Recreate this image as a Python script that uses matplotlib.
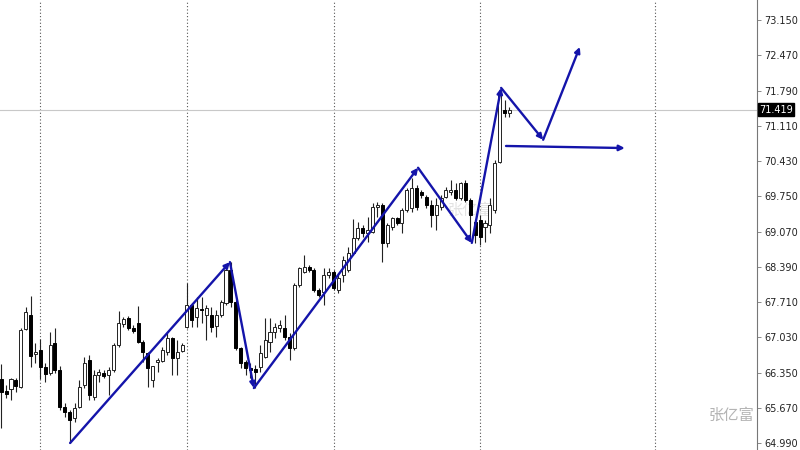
import matplotlib
matplotlib.use("Agg")
import matplotlib.pyplot as plt
import numpy as np

plt.rcParams['font.family'] = ['DejaVu Sans', 'Noto Sans CJK SC']

# OHLC, one row per bar (open, high, low, close)
opens = [66.22, 65.99, 66.03, 66.21, 66.07, 67.19, 67.46, 66.71, 66.79, 66.46,
         66.34, 66.92, 66.40, 65.69, 65.59, 65.47, 65.69, 66.11, 66.59, 65.88,
         66.30, 66.34, 66.30, 66.40, 66.88, 67.29, 67.40, 67.21, 67.30, 66.94,
         66.73, 66.21, 66.55, 66.57, 66.75, 67.02, 66.63, 66.77, 67.23, 67.65,
         67.42, 67.58, 67.46, 67.46, 67.25, 67.46, 67.69, 68.33, 67.71, 66.82,
         66.55, 66.44, 66.42, 66.46, 66.65, 66.94, 67.13, 67.21, 67.21, 67.04,
         66.82, 68.03, 68.29, 68.39, 68.33, 67.94, 67.90, 68.23, 68.29, 67.94,
         68.23, 68.33, 68.66, 68.94, 69.14, 69.04, 69.06, 69.54, 69.58, 68.85,
         69.16, 69.33, 69.23, 69.49, 69.52, 69.91, 69.83, 69.74, 69.58, 69.39,
         69.54, 69.74, 69.83, 69.87, 69.72, 70.01, 69.68, 69.25, 69.29, 69.16,
         69.20, 69.49, 70.41, 71.41, 71.36]
highs = [66.51, 66.11, 66.24, 66.24, 67.21, 67.61, 67.83, 66.92, 67.00, 66.53,
         67.13, 67.21, 66.48, 65.76, 65.63, 65.76, 66.21, 66.65, 66.69, 66.40,
         66.42, 66.40, 66.46, 66.92, 67.54, 67.42, 67.44, 67.27, 67.63, 66.98,
         66.75, 66.48, 66.63, 66.84, 67.11, 67.04, 66.98, 66.92, 68.08, 67.69,
         67.81, 67.81, 67.65, 67.61, 67.56, 67.75, 68.42, 68.49, 67.75, 66.84,
         66.59, 66.53, 66.50, 66.88, 67.40, 67.40, 67.30, 67.36, 67.46, 67.11,
         68.08, 68.39, 68.62, 68.42, 68.37, 67.98, 68.37, 68.37, 68.33, 68.27,
         68.60, 68.77, 69.31, 69.25, 69.20, 69.35, 69.62, 69.64, 69.62, 69.23,
         69.35, 69.35, 69.52, 69.91, 70.10, 69.97, 69.87, 69.77, 69.68, 69.72,
         69.77, 69.93, 70.06, 70.01, 70.03, 70.06, 69.72, 69.29, 69.39, 69.29,
         69.72, 70.45, 71.80, 71.61, 71.47]
lows = [65.28, 65.86, 65.82, 65.97, 66.05, 67.17, 66.46, 66.53, 66.22, 66.17,
        66.30, 66.34, 65.63, 65.49, 64.99, 65.40, 65.67, 66.05, 65.82, 65.82,
        66.17, 66.24, 65.92, 66.36, 66.84, 67.23, 67.17, 67.11, 66.92, 66.55,
        66.07, 66.07, 66.36, 66.55, 66.69, 66.30, 66.30, 66.75, 67.21, 67.23,
        67.23, 67.30, 66.98, 67.13, 67.04, 67.42, 67.65, 67.61, 66.79, 66.44,
        66.30, 66.24, 66.05, 66.36, 66.63, 66.75, 67.02, 67.13, 66.98, 66.59,
        66.79, 68.00, 68.27, 68.29, 67.90, 67.81, 67.65, 68.17, 67.94, 67.88,
        68.10, 68.29, 68.62, 68.91, 68.96, 68.87, 69.04, 69.35, 68.49, 68.77,
        69.10, 69.20, 69.04, 69.45, 69.45, 69.49, 69.72, 69.52, 69.16, 69.10,
        69.49, 69.72, 69.77, 69.68, 69.68, 69.64, 68.96, 68.85, 68.81, 68.87,
        69.04, 69.43, 70.39, 71.28, 71.28]
closes = [65.97, 65.94, 66.22, 66.09, 67.17, 67.52, 66.67, 66.75, 66.46, 66.32,
          66.88, 66.40, 65.69, 65.59, 65.43, 65.67, 66.07, 66.53, 65.92, 66.30,
          66.36, 66.28, 66.40, 66.88, 67.30, 67.38, 67.21, 67.15, 66.94, 66.75,
          66.44, 66.48, 66.59, 66.79, 67.02, 66.63, 66.75, 66.88, 67.65, 67.36,
          67.59, 67.56, 67.59, 67.23, 67.46, 67.71, 68.33, 67.71, 66.82, 66.53,
          66.44, 66.40, 66.36, 66.73, 66.98, 67.13, 67.23, 67.27, 67.04, 66.82,
          68.03, 68.37, 68.39, 68.33, 67.94, 67.85, 68.23, 68.29, 67.98, 68.17,
          68.52, 68.66, 68.94, 69.14, 69.04, 69.10, 69.54, 69.58, 68.85, 69.20,
          69.33, 69.23, 69.49, 69.87, 69.91, 69.54, 69.77, 69.58, 69.39, 69.58,
          69.72, 69.87, 69.87, 69.72, 70.01, 69.68, 69.39, 69.00, 68.96, 69.23,
          69.58, 70.39, 71.74, 71.36, 71.419]

last_price = 71.419
price_ticks = [64.99, 65.67, 66.35, 67.03, 67.71, 68.39, 69.07, 69.75,
               70.43, 71.11, 71.79, 72.47, 73.15]
period_starts = [8, 38, 68, 98, 133.8]

# hand-drawn zigzag (bar index, price) and the flat projection
wave_x = [14.1, 46.8, 51.7, 85.3, 96.3, 102.3, 110.9, 118.4]
wave_y = [64.99, 68.48, 66.05, 70.30, 68.85, 71.84, 70.84, 72.63]
flat_x = [103.3, 127.6]
flat_y = [70.72, 70.68]

fig = plt.figure(figsize=(8, 4.5), dpi=100)
ax = fig.add_axes([0, 0, 757 / 800, 1])

x = np.arange(len(opens))
o = np.array(opens); h = np.array(highs); l = np.array(lows); c = np.array(closes)
up = c >= o

ax.vlines(x, l, h, color='#222222', lw=0.8, zorder=2)
bottom = np.minimum(o, c)
height = np.maximum(np.abs(c - o), 0.02)
ax.bar(x[up], height[up], bottom=bottom[up], width=0.62, color='white',
       edgecolor='#222222', lw=0.7, zorder=3)
ax.bar(x[~up], height[~up], bottom=bottom[~up], width=0.62, color='black',
       edgecolor='black', lw=0.7, zorder=3)

for p in period_starts:
    ax.axvline(p, color='#555555', ls=(0, (1, 2)), lw=0.8, zorder=1)

ax.axhline(last_price, color='#c8c8c8', lw=0.8, zorder=1)

blue = '#1414aa'
for i in range(len(wave_x) - 1):
    ax.annotate('', xy=(wave_x[i + 1], wave_y[i + 1]), xytext=(wave_x[i], wave_y[i]),
                arrowprops=dict(arrowstyle='-|>', color=blue, lw=1.7,
                                mutation_scale=8, shrinkA=0, shrinkB=0), zorder=5)
ax.annotate('', xy=(flat_x[1], flat_y[1]), xytext=(flat_x[0], flat_y[0]),
            arrowprops=dict(arrowstyle='-|>', color=blue, lw=1.7,
                            mutation_scale=8, shrinkA=0, shrinkB=0), zorder=5)

ax.set_xlim(-0.25, 154.66)
ax.set_ylim(64.855, 73.536)

for s in ['top', 'left', 'bottom']:
    ax.spines[s].set_visible(False)
ax.spines['right'].set_color('#777777')
ax.spines['right'].set_linewidth(0.8)
ax.set_xticks([])
ax.yaxis.tick_right()
ax.set_yticks(price_ticks)
ax.set_yticklabels(['%.3f' % t for t in price_ticks])
ax.tick_params(axis='y', direction='out', length=3, width=0.6, colors='#777777',
               labelcolor='#222222', labelsize=7, pad=2)

ax.text(1.003, last_price, '%.3f' % last_price, transform=ax.get_yaxis_transform(),
        fontsize=7, color='white', va='center', ha='left',
        bbox=dict(boxstyle='square,pad=0.15', fc='black', ec='black'), zorder=6)

cjk = ['Noto Sans CJK SC', 'DejaVu Sans']
ax.text(0.997, 1 - 415 / 450, '张亿富', transform=ax.transAxes, family=cjk,
        fontsize=11, color='#b4b4b4', ha='right', va='center')
ax.text(471 / 757, 1 - 210 / 450, '张亿富', transform=ax.transAxes, family=cjk,
        fontsize=11, color='#e2e2e2', ha='center', va='center', zorder=1)

fig.savefig('out.png', dpi=100)
